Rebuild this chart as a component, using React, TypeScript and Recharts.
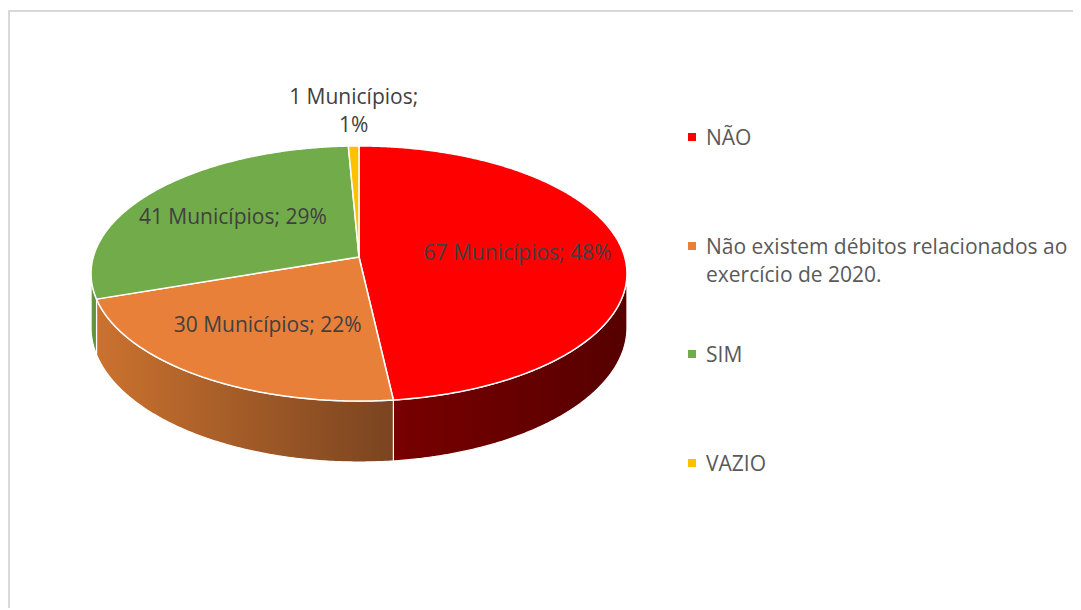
import React from 'react';
import { PieChart, Pie, Legend } from 'recharts';

// ---------- data ----------
const CATEGORIES = [
  'NÃO',
  'Não existem débitos relacionados ao exercício de 2020.',
  'SIM',
  'VAZIO',
];
const VALUES = [67, 30, 41, 1];
const UNIT_LABEL = 'Municípios';

// ---------- styles ----------
const TOP_COLORS = ['#FF0000', '#E9803A', '#72AC4A', '#FFC000'];
const WALL_COLORS: [string, string][] = [
  ['#780000', '#560000'],
  ['#CB722F', '#7A4420'],
  ['#6A9E42', '#5A8A38'],
  ['#E0A800', '#A07800'],
];
const LABEL_COLOR = '#404040';
const LEGEND_COLOR = '#595959';
const FONT = '"Open Sans", "Noto Sans", sans-serif';
const FONT_SIZE = 21;

const W = 1080;
const H = 596;
const CX = 349;
const CY = 245;
const RX = 265.7;
const RY = 125.4;
const PERSP = 0.1294;
const DEPTH = 53.1;
const LABEL_K = 0.6;
const WALL_LIMIT = (Math.acos(-PERSP) * 180) / Math.PI;

const data = CATEGORIES.map((name, i) => ({ name, value: VALUES[i] }));

type Pt = { x: number; y: number; v: number };

function proj(cx: number, cy: number, thetaDeg: number, k = 1): Pt {
  const t = (thetaDeg * Math.PI) / 180;
  const u = Math.sin(t);
  const v = Math.cos(t);
  const d = 1 + PERSP * k * v;
  return { x: cx + (RX * k * u) / d, y: cy - (RY * k * v) / d, v };
}

function arcPoints(cx: number, cy: number, a: number, b: number): Pt[] {
  const n = Math.max(2, Math.ceil((b - a) / 0.5));
  const pts: Pt[] = [];
  for (let i = 0; i <= n; i++) pts.push(proj(cx, cy, a + ((b - a) * i) / n));
  return pts;
}

const toPath = (pts: { x: number; y: number }[]) =>
  'M' + pts.map((p) => `${p.x.toFixed(2)},${p.y.toFixed(2)}`).join('L') + 'Z';

const renderWall = (props: any) => {
  const { cx, cy, startAngle, endAngle, index } = props;
  const a = 90 - startAngle;
  const b = 90 - endAngle;
  const lo = Math.max(a, WALL_LIMIT);
  const hi = Math.min(b, 360 - WALL_LIMIT);
  if (hi <= lo) return <g />;
  const top = arcPoints(cx, cy, lo, hi);
  const bottom = top
    .slice()
    .reverse()
    .map((p) => ({ x: p.x, y: p.y + DEPTH / (1 + PERSP * p.v) }));
  const id = `wall-grad-${index}`;
  return (
    <g>
      <defs>
        <linearGradient id={id} x1="0" y1="0" x2="1" y2="0">
          <stop offset="0%" stopColor={WALL_COLORS[index][0]} />
          <stop offset="100%" stopColor={WALL_COLORS[index][1]} />
        </linearGradient>
      </defs>
      <path d={toPath([...top, ...bottom])} fill={`url(#${id})`} stroke="#ffffff" strokeWidth={1.2} />
    </g>
  );
};

const renderTop = (props: any) => {
  const { cx, cy, startAngle, endAngle, index } = props;
  const a = 90 - startAngle;
  const b = 90 - endAngle;
  const pts = [{ x: cx, y: cy }, ...arcPoints(cx, cy, a, b)];
  return (
    <path
      d={toPath(pts)}
      fill={TOP_COLORS[index]}
      stroke="#ffffff"
      strokeWidth={1.5}
      strokeLinejoin="round"
    />
  );
};

const renderText = (props: any) => {
  const { cx, cy, midAngle, percent, value } = props;
  const theta = 90 - midAngle;
  const pct = Math.round(percent * 100);
  const style = { fontFamily: FONT, fontSize: FONT_SIZE };
  if (percent < 0.05) {
    const p = proj(cx, cy, theta, 1);
    return (
      <g>
        <text x={p.x} y={p.y - 49} dy="0.35em" textAnchor="middle" fill={LABEL_COLOR} style={style}>
          {`${value} ${UNIT_LABEL};`}
        </text>
        <text x={p.x} y={p.y - 21} dy="0.35em" textAnchor="middle" fill={LABEL_COLOR} style={style}>
          {`${pct}%`}
        </text>
      </g>
    );
  }
  const p = proj(cx, cy, theta, LABEL_K);
  return (
    <text x={p.x} y={p.y} dy="0.35em" textAnchor="middle" fill={LABEL_COLOR} style={style}>
      {`${value} ${UNIT_LABEL}; ${pct}%`}
    </text>
  );
};

const renderLegend = () => (
  <div style={{ fontFamily: FONT, fontSize: FONT_SIZE, color: LEGEND_COLOR }}>
    {CATEGORIES.map((name, i) => (
      <div key={name} style={{ display: 'flex', alignItems: 'flex-start', height: 108.5 }}>
        <span
          style={{
            width: 8,
            height: 8,
            background: TOP_COLORS[i],
            marginTop: 10,
            marginRight: 10,
            flex: 'none',
          }}
        />
        <span style={{ lineHeight: '28px', width: 376 }}>{name}</span>
      </div>
    ))}
  </div>
);

export default function App() {
  return (
    <>
      <style>{`html, body { overflow: hidden; }`}</style>
      <div
        style={{
          position: 'relative',
          top: 2,
          width: W,
          height: H,
          border: '2px solid #d9d9d9',
          background: '#ffffff',
        }}
      >
        <PieChart width={W} height={H} margin={{ top: 0, right: 0, bottom: 0, left: 0 }}>
          {/* side walls */}
          <Pie
            data={data}
            dataKey="value"
            nameKey="name"
            cx={CX}
            cy={CY}
            outerRadius={RX}
            startAngle={90}
            endAngle={-270}
            fill="none"
            stroke="none"
            label={renderWall}
            labelLine={false}
            isAnimationActive={false}
            legendType="none"
          />
          {/* top faces */}
          <Pie
            data={data}
            dataKey="value"
            nameKey="name"
            cx={CX}
            cy={CY}
            outerRadius={RX}
            startAngle={90}
            endAngle={-270}
            fill="none"
            stroke="none"
            label={renderTop}
            labelLine={false}
            isAnimationActive={false}
            legendType="none"
          />
          {/* data labels */}
          <Pie
            data={data}
            dataKey="value"
            nameKey="name"
            cx={CX}
            cy={CY}
            outerRadius={RX}
            startAngle={90}
            endAngle={-270}
            fill="none"
            stroke="none"
            label={renderText}
            labelLine={false}
            isAnimationActive={false}
          />
          <Legend
            layout="vertical"
            align="right"
            verticalAlign="top"
            content={renderLegend}
            wrapperStyle={{ left: 678, top: 111, width: 400, right: 'auto' }}
          />
        </PieChart>
      </div>
    </>
  );
}
